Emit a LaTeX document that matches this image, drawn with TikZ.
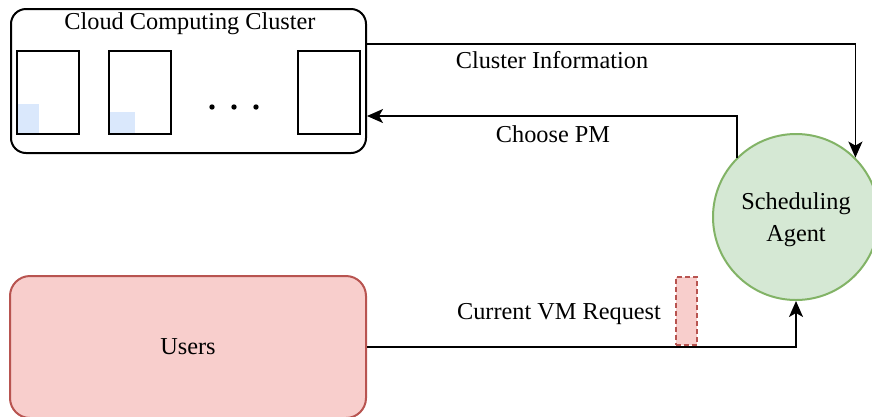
\documentclass[tikz,border=0pt]{standalone}
\usepackage{fontspec}
\setmainfont{Liberation Serif}
\usepackage{tikz}
\usetikzlibrary{arrows.meta, shapes.geometric}
\definecolor{vmblue}{HTML}{DAE8FC}
\definecolor{agentfill}{HTML}{D5E8D4}
\definecolor{agentline}{HTML}{82B366}
\definecolor{userfill}{HTML}{F8CECC}
\definecolor{userline}{HTML}{B85450}
\begin{document}
\begin{tikzpicture}[x=1pt, y=-1pt, font=\fontsize{24.3}{32}\selectfont,
                box/.style={draw, line width=2pt, inner sep=0pt},
                pm/.style={box, minimum width=62pt, minimum height=83pt},
                flow/.style={line width=1.8pt, -{Stealth[length=16pt, width=14pt, inset=4pt]}}]
                \useasboundingbox (0,0) rectangle (872,416);
                % cluster
                \node[box, rounded corners=15pt, minimum width=355pt, minimum height=144pt] (cluster) at (188.5,81) {};
                \node (title) at (190,24) {Cloud Computing Cluster};
                \fill[vmblue] (18,104) rectangle (39,133);
                \fill[vmblue] (110,112) rectangle (135,133);
                \node[pm] (pm1) at (48,92.5) {};
                \node[pm] (pm2) at (140,92.5) {};
                \node[pm] (pm3) at (329,92.5) {};
                \foreach \x in {212,234,256}
                    \fill (\x,107) circle (2.7pt);
                % agent, users, request
                \node[box, circle, fill=agentfill, draw=agentline, minimum size=166pt] (agent) at (796,217) {};
                \node[align=center] (agenttext) at (796,220) {Scheduling\\Agent};
                \node[box, rounded corners=20pt, fill=userfill, draw=userline, minimum width=356pt, minimum height=142pt] (users) at (188,347) {Users};
                \node[box, dashed, dash pattern=on 5pt off 3pt, fill=userfill, draw=userline, minimum width=21pt, minimum height=68pt] (vmreq) at (686,310.5) {};
                % connectors
                \draw[flow] (cluster.east |- 0,44) -| (agent.45);
                \draw[flow] (agent.135) |- (cluster.east |- 0,116);
                \draw[flow] (users.east) -| (agent.south);
                \node (info) at (552,60) {Cluster Information};
                \node (choose) at (553,134) {Choose PM};
                \node (request) at (559,314) {Current VM Request};
            \end{tikzpicture}
\end{document}
